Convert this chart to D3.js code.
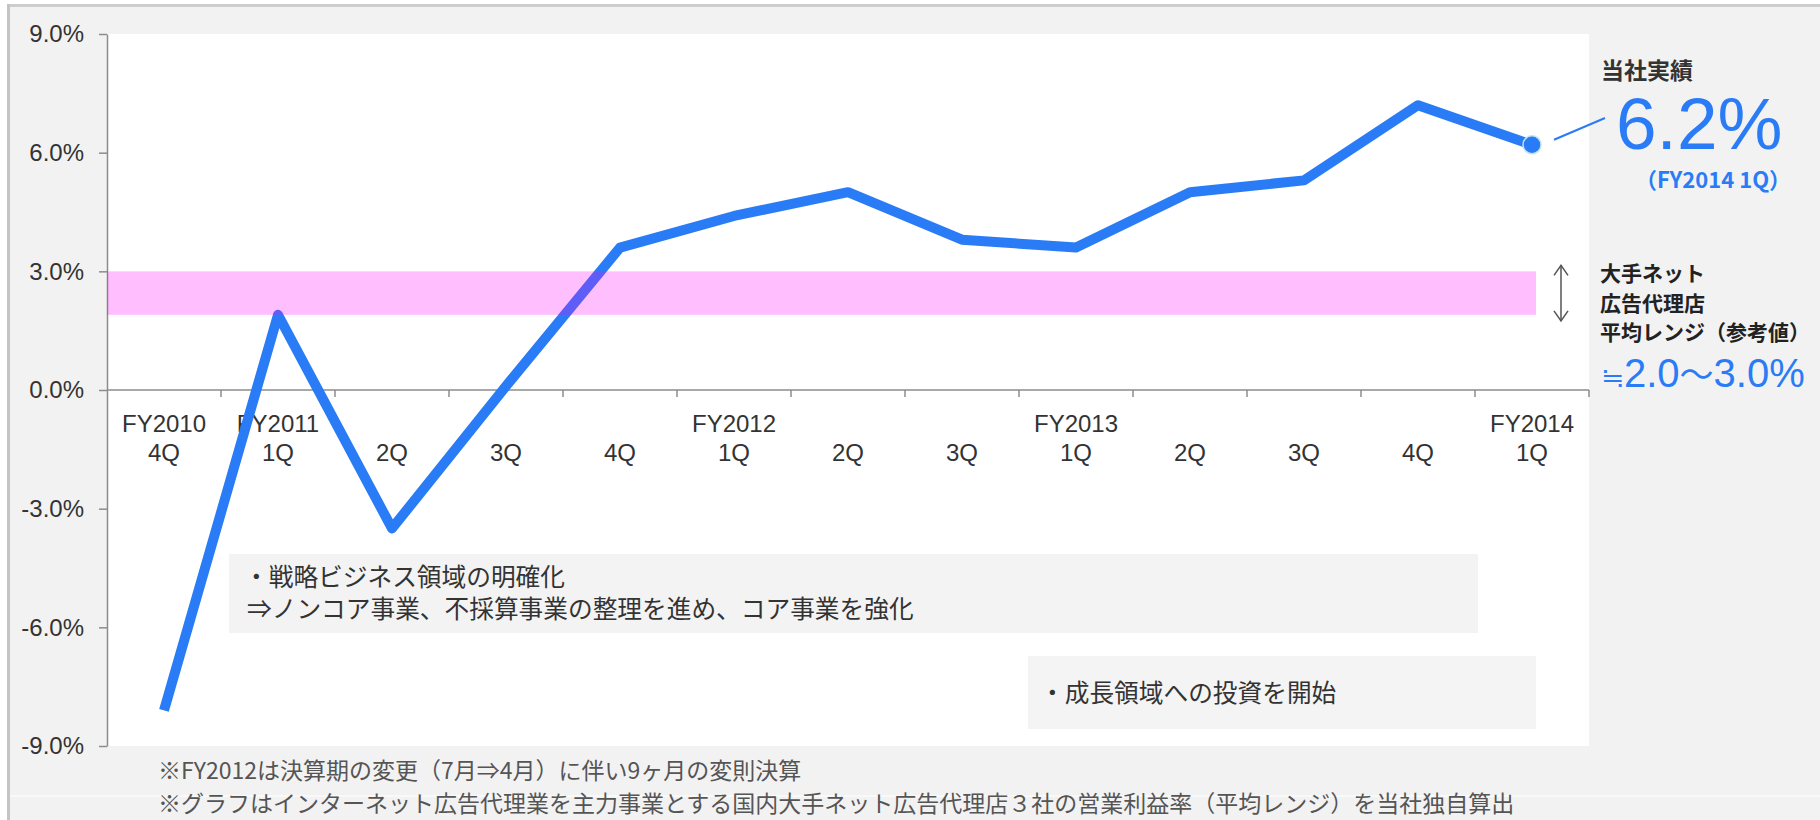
<html>
    <head>
        <meta charset="utf-8">
        <title>営業利益率推移</title>
        <script src="https://d3js.org/d3.v7.min.js"></script>
    </head>

    <style>
        body {
        margin: 0;
        background: #fff;
        }

        svg {
        display: block;
        }

        text {
        font-family: 'Liberation Sans', Arial, sans-serif;
        fill: #333;
        }

        .jp {
        font-family: 'Noto Sans CJK JP', 'Noto Sans', sans-serif;
        }

        .axis path, .axis line {
        stroke: #8c8c8c;
        stroke-width: 1.5;
        }

        .axis text {
        font-size: 24px;
        fill: #333;
        }

        .xlabel {
        font-size: 24px;
        }

        .note {
        font-size: 23px;
        fill: #555;
        }

        .box-text {
        font-size: 24.7px;
        fill: #333;
        }

        .side {
        font-size: 21px;
        font-weight: 700;
        fill: #222;
        }

        .blue {
        fill: #2a7cf6;
        }
    </style>

    <body>
        <svg width="1820" height="820"></svg>

    <script>
        // quarters on the x axis
        const fyLabels = ['FY2010', 'FY2011', '', '', '', 'FY2012', '', '', 'FY2013', '', '', '', 'FY2014'];
        const qLabels = ['4Q', '1Q', '2Q', '3Q', '4Q', '1Q', '2Q', '3Q', '1Q', '2Q', '3Q', '4Q', '1Q'];
        // operating margin (%)
        const margins = [-8.1, 1.9, -3.5, 0.1, 3.6, 4.4, 5.0, 3.8, 3.6, 5.0, 5.3, 7.2, 6.2];
        // average range of big net ad agencies (%)
        const rangeLow = 1.9;
        const rangeHigh = 3.0;
        const rangeText = ['≒', '2.0', '〜', '3.0%'];
        const yTicks = [-9, -6, -3, 0, 3, 6, 9];

        const comment1 = ['・戦略ビジネス領域の明確化', '⇒ノンコア事業、不採算事業の整理を進め、コア事業を強化'];
        const comment2 = '・成長領域への投資を開始';
        const notes = [
            '※FY2012は決算期の変更（7月⇒4月）に伴い9ヶ月の変則決算',
            '※グラフはインターネット広告代理業を主力事業とする国内大手ネット広告代理店３社の営業利益率（平均レンジ）を当社独自算出'
        ];

        const svg = d3.select('svg');

        const plotLeft = 107;
        const plotRight = 1589;
        const plotTop = 34;
        const plotBottom = 746;

        const xScale = d3.scaleBand()
        .domain(d3.range(qLabels.length))
        .range([plotLeft, plotRight]);

        const yScale = d3.scaleLinear()
        .domain([-9, 9])
        .range([plotBottom, plotTop]);

        const cx = (i) => xScale(i) + xScale.bandwidth() / 2;

        // frame
        svg.append('rect')
        .attr('x', 8).attr('y', 5)
        .attr('width', 1812).attr('height', 815)
        .attr('fill', '#f2f2f2');

        svg.append('rect')
        .attr('x', 8).attr('y', 4)
        .attr('width', 1812).attr('height', 3)
        .attr('fill', '#cdcdcd');

        svg.append('rect')
        .attr('x', 7).attr('y', 4)
        .attr('width', 3).attr('height', 816)
        .attr('fill', '#c4c4c4');

        svg.append('line')
        .attr('x1', 10).attr('x2', 1820)
        .attr('y1', 796).attr('y2', 796)
        .attr('stroke', '#fbfbfb')
        .attr('stroke-width', 1.5);

        svg.append('rect')
        .attr('x', plotLeft).attr('y', plotTop)
        .attr('width', plotRight - plotLeft).attr('height', plotBottom - plotTop)
        .attr('fill', '#fff');

        // comment boxes
        svg.append('rect')
        .attr('x', 229).attr('y', 554)
        .attr('width', 1249).attr('height', 79)
        .attr('fill', '#f3f3f3');

        svg.append('text')
        .attr('class', 'jp box-text')
        .selectAll('tspan')
        .data(comment1)
        .enter()
        .append('tspan')
        .attr('x', (d, i) => i === 0 ? 244 : 247)
        .attr('y', (d, i) => 586 + i * 32)
        .text((d) => d);

        svg.append('rect')
        .attr('x', 1028).attr('y', 656)
        .attr('width', 508).attr('height', 73)
        .attr('fill', '#f4f4f4');

        svg.append('text')
        .attr('class', 'jp box-text')
        .attr('x', 1040).attr('y', 702)
        .text(comment2);

        // y axis
        svg.append('g')
        .attr('class', 'axis')
        .attr('transform', `translate(${plotLeft}, 0)`)
        .call(d3.axisLeft(yScale)
            .tickValues(yTicks)
            .tickSize(8)
            .tickSizeOuter(0)
            .tickPadding(15)
            .tickFormat((d) => d.toFixed(1) + '%'));

        // x axis at 0%
        const xAxis = svg.append('g')
        .attr('class', 'axis');

        xAxis.append('line')
        .attr('x1', plotLeft).attr('x2', plotRight)
        .attr('y1', yScale(0)).attr('y2', yScale(0));

        xAxis.selectAll('.tick')
        .data(d3.range(1, qLabels.length + 1))
        .enter()
        .append('line')
        .attr('x1', (i) => i < qLabels.length ? xScale(i) : plotRight)
        .attr('x2', (i) => i < qLabels.length ? xScale(i) : plotRight)
        .attr('y1', yScale(0))
        .attr('y2', yScale(0) + 7);

        svg.selectAll('.fy')
        .data(fyLabels)
        .enter()
        .append('text')
        .attr('class', 'xlabel')
        .attr('x', (d, i) => cx(i))
        .attr('y', 432)
        .attr('text-anchor', 'middle')
        .text((d) => d);

        svg.selectAll('.q')
        .data(qLabels)
        .enter()
        .append('text')
        .attr('class', 'xlabel')
        .attr('x', (d, i) => cx(i))
        .attr('y', 461)
        .attr('text-anchor', 'middle')
        .text((d) => d);

        // result line
        const line = d3.line()
        .x((d, i) => cx(i))
        .y((d) => yScale(d));

        svg.append('path')
        .datum(margins)
        .attr('d', line)
        .attr('fill', 'none')
        .attr('stroke', '#2a7cf6')
        .attr('stroke-width', 10)
        .attr('stroke-linejoin', 'round');

        // reference range
        svg.append('rect')
        .attr('x', plotLeft)
        .attr('y', yScale(rangeHigh))
        .attr('width', 1536 - plotLeft)
        .attr('height', yScale(rangeLow) - yScale(rangeHigh))
        .attr('fill', '#ff00ff')
        .attr('fill-opacity', 0.25);

        const last = margins.length - 1;

        svg.append('circle')
        .attr('cx', cx(last))
        .attr('cy', yScale(margins[last]))
        .attr('r', 9)
        .attr('fill', '#2a7cf6')
        .attr('stroke', '#bfe6ee')
        .attr('stroke-width', 1.5);

        // right side texts
        svg.append('text')
        .attr('class', 'jp')
        .attr('x', 1601).attr('y', 79)
        .attr('font-size', 23)
        .attr('font-weight', 700)
        .attr('fill', '#444')
        .text('当社実績');

        svg.append('line')
        .attr('x1', cx(last) + 22).attr('y1', yScale(margins[last]) - 5)
        .attr('x2', 1605).attr('y2', 118)
        .attr('stroke', '#2a7cf6')
        .attr('stroke-width', 2);

        svg.append('text')
        .attr('class', 'blue')
        .attr('x', 1616).attr('y', 149)
        .attr('font-size', 73)
        .text(margins[last].toFixed(1) + '%');

        svg.append('text')
        .attr('class', 'jp blue')
        .attr('x', 1713).attr('y', 188)
        .attr('text-anchor', 'middle')
        .attr('font-size', 22)
        .attr('font-weight', 700)
        .text('（FY2014 1Q）');

        const ay1 = yScale(rangeHigh) - 6;
        const ay2 = yScale(rangeLow) + 6;
        const arrow = svg.append('g')
        .attr('stroke', '#555')
        .attr('stroke-width', 1.5)
        .attr('fill', 'none');

        arrow.append('line')
        .attr('x1', 1561).attr('x2', 1561)
        .attr('y1', ay1).attr('y2', ay2);

        arrow.append('path')
        .attr('d', `M1554,${ay1 + 10}L1561,${ay1}L1568,${ay1 + 10}`);

        arrow.append('path')
        .attr('d', `M1554,${ay2 - 10}L1561,${ay2}L1568,${ay2 - 10}`);

        svg.append('text')
        .attr('class', 'jp side')
        .attr('x', 1600).attr('y', 281)
        .text('大手ネット');

        svg.append('text')
        .attr('class', 'jp side')
        .attr('x', 1600).attr('y', 311)
        .text('広告代理店');

        svg.append('text')
        .attr('class', 'jp side')
        .attr('x', 1600).attr('y', 340)
        .text('平均レンジ（参考値）');

        const rangeLabel = svg.append('text')
        .attr('class', 'blue')
        .attr('x', 1601).attr('y', 387)
        .attr('font-size', 40);

        rangeLabel.selectAll('tspan')
        .data(rangeText)
        .enter()
        .append('tspan')
        .attr('class', (d, i) => i % 2 === 0 ? 'jp' : null)
        .attr('font-size', (d, i) => i === 0 ? 28 : (i === 2 ? 34 : 40))
        .text((d) => d);

        // footnotes
        svg.selectAll('.note')
        .data(notes)
        .enter()
        .append('text')
        .attr('class', 'jp note')
        .attr('x', 158)
        .attr('y', (d, i) => 779 + i * 33)
        .attr('font-size', (d, i) => i === 1 ? 23.4 : 23)
        .text((d) => d);
    </script>
    </body>
</html>
